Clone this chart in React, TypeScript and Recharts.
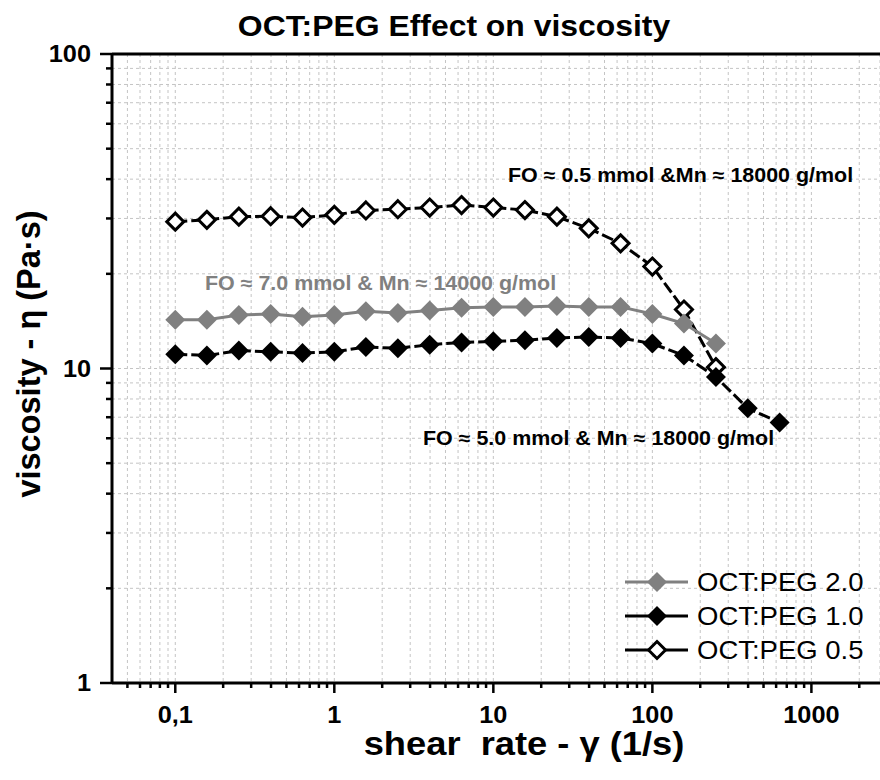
import React from "react";
import { LineChart, Line, XAxis, YAxis, CartesianGrid, ReferenceLine } from "recharts";

// ---------- data ----------
const shearRate = [0.1, 0.158, 0.251, 0.398, 0.631, 1, 1.58, 2.51, 3.98, 6.31, 10, 15.8, 25.1, 39.8, 63.1, 100, 158, 251, 398, 631];
const peg20 = [14.3, 14.3, 14.8, 14.9, 14.6, 14.8, 15.2, 15.0, 15.3, 15.6, 15.7, 15.7, 15.8, 15.7, 15.7, 14.9, 13.9, 12.0, null, null];
const peg10 = [11.1, 11.0, 11.4, 11.3, 11.2, 11.3, 11.7, 11.6, 11.9, 12.1, 12.2, 12.3, 12.5, 12.6, 12.5, 12.0, 11.0, 9.4, 7.47, 6.74];
const peg05 = [29.3, 29.7, 30.4, 30.5, 30.2, 30.8, 31.8, 32.1, 32.5, 33.1, 32.5, 31.9, 30.4, 27.9, 25.0, 21.1, 15.4, 10.1, null, null];

const seriesNames = ["OCT:PEG 2.0", "OCT:PEG 1.0", "OCT:PEG 0.5"];

const xMajorTicks = [0.1, 1, 10, 100, 1000];
const xMajorLabels = ["0,1", "1", "10", "100", "1000"];
const xMinorTicks = [
  0.05, 0.06, 0.07, 0.08, 0.09,
  0.2, 0.3, 0.4, 0.5, 0.6, 0.7, 0.8, 0.9,
  2, 3, 4, 5, 6, 7, 8, 9,
  20, 30, 40, 50, 60, 70, 80, 90,
  200, 300, 400, 500, 600, 700, 800, 900,
  2000,
];
const yMajorTicks = [1, 10, 100];
const yMajorLabels = ["1", "10", "100"];
const yMinorTicks = [2, 3, 4, 5, 6, 7, 8, 9, 20, 30, 40, 50, 60, 70, 80, 90];

const titleText = "OCT:PEG Effect on viscosity";
const xTitle = "shear  rate - \u03B3 (1/s)";
const yTitle = "viscosity - \u03B7 (Pa\u00B7s)";
const noteA = "FO \u2248 0.5 mmol &Mn \u2248 18000 g/mol";
const noteB = "FO \u2248 7.0 mmol & Mn \u2248 14000 g/mol";
const noteC = "FO \u2248 5.0 mmol & Mn \u2248 18000 g/mol";

const data = shearRate.map((x, i) => ({ x, a: peg20[i], b: peg10[i], c: peg05[i] }));

// ---------- style ----------
const FONT = '"Liberation Sans", Arial, Helvetica, sans-serif';
const SX = 1.1;
const GRAY = "#808080";

function Txt({ x, y, anchor = "start", size, weight = "bold", fill = "#000", rotate = 0, sx = SX, children }: any) {
  return (
    <text
      transform={`translate(${x},${y}) rotate(${rotate}) scale(${sx},1)`}
      textAnchor={anchor}
      fontFamily={FONT}
      fontSize={size}
      fontWeight={weight}
      fill={fill}
      style={{ whiteSpace: "pre" }}
    >
      {children}
    </text>
  );
}

const diamondPath = (cx: number, cy: number, r: number) =>
  `M${cx},${cy - r}L${cx + r},${cy}L${cx},${cy + r}L${cx - r},${cy}Z`;

const makeDot = (fill: string, stroke: string, r: number, sw: number) => (props: any) => {
  const { cx, cy, index, value } = props;
  if (cx == null || cy == null || value == null || isNaN(cx) || isNaN(cy)) return <g key={`d${index}`} />;
  return <path key={`d${index}`} d={diamondPath(cx, cy, r)} fill={fill} stroke={stroke} strokeWidth={sw} />;
};

const seriesStyles = [
  { key: "a", color: GRAY, fill: GRAY, r: 10, sw: 0, dash: undefined as string | undefined },
  { key: "b", color: "#000", fill: "#000", r: 10, sw: 0, dash: "12 4" },
  { key: "c", color: "#000", fill: "#fff", r: 8.5, sw: 3, dash: "12 4" },
];

const XTick = (props: any) => {
  const { x, y, payload } = props;
  const v = payload.value;
  const mi = xMajorTicks.indexOf(v);
  const major = mi >= 0;
  return (
    <g>
      <line x1={x} x2={x} y1={y} y2={y + (major ? 10 : 5)} stroke="#000" strokeWidth={2.5} />
      {major && (
        <Txt x={x} y={y + 40} anchor="middle" size={23}>
          {xMajorLabels[mi]}
        </Txt>
      )}
    </g>
  );
};

const YTick = (props: any) => {
  const { x, y, payload } = props;
  const v = payload.value;
  const mi = yMajorTicks.indexOf(v);
  const major = mi >= 0;
  return (
    <g>
      <line x1={x} x2={x - (major ? 12 : 6)} y1={y} y2={y} stroke="#000" strokeWidth={2.5} />
      {major && (
        <Txt x={x - 21} y={y + 8.2} anchor="end" size={23}>
          {yMajorLabels[mi]}
        </Txt>
      )}
    </g>
  );
};

const legendRows = [582, 616, 650];

export default function App() {
  const xTicks = [...xMajorTicks, ...xMinorTicks].sort((p, q) => p - q);
  const yTicks = [...yMajorTicks, ...yMinorTicks].sort((p, q) => p - q);
  const order = [2, 0, 1];
  return (
    <div style={{ position: "absolute", left: 0, top: 0, width: 880, height: 780, background: "#fff", overflow: "hidden" }}>
      <LineChart width={880} height={780} data={data} margin={{ top: 54, right: 0, bottom: 7, left: 12 }}>
        <CartesianGrid stroke="#c4c4c4" strokeDasharray="3 3" strokeWidth={1} />
        <XAxis
          dataKey="x"
          type="number"
          scale="log"
          domain={[0.04, 2700]}
          allowDataOverflow
          ticks={xTicks}
          interval={0}
          height={90}
          tickSize={0}
          tickMargin={0}
          tickLine={false}
          tick={<XTick />}
          axisLine={{ stroke: "#000", strokeWidth: 3 }}
        />
        <YAxis
          type="number"
          scale="log"
          domain={[1, 100]}
          allowDataOverflow
          ticks={yTicks}
          interval={0}
          width={100}
          tickSize={0}
          tickMargin={0}
          tickLine={false}
          tick={<YTick />}
          axisLine={{ stroke: "#000", strokeWidth: 3 }}
        />
        <ReferenceLine y={100} stroke="#000" strokeWidth={3} ifOverflow="visible" />
        {order.map((i) => {
          const s = seriesStyles[i];
          return (
            <Line
              key={s.key}
              dataKey={s.key}
              name={seriesNames[i]}
              stroke={s.color}
              strokeWidth={3}
              strokeDasharray={s.dash}
              dot={makeDot(s.fill, s.color, s.r, s.sw)}
              activeDot={false}
              isAnimationActive={false}
              connectNulls={false}
            />
          );
        })}
      </LineChart>
      <svg width={880} height={780} style={{ position: "absolute", left: 0, top: 0, pointerEvents: "none" }}>
        <Txt x={454} y={36} anchor="middle" size={29}>{titleText}</Txt>
        <Txt x={524} y={755} anchor="middle" size={33}>{xTitle}</Txt>
        <Txt x={40} y={354} anchor="middle" size={32.5} rotate={-90} sx={1}>{yTitle}</Txt>
        <Txt x={508} y={182} size={19.5}>{noteA}</Txt>
        <Txt x={205} y={290} size={19.5} fill={GRAY}>{noteB}</Txt>
        <Txt x={423} y={445} size={19.5}>{noteC}</Txt>
        {seriesNames.map((name, i) => {
          const s = seriesStyles[i];
          const y = legendRows[i];
          return (
            <g key={name}>
              <line x1={625} x2={688} y1={y} y2={y} stroke={s.color} strokeWidth={3} />
              <path d={diamondPath(657, y, s.r)} fill={s.fill} stroke={s.color} strokeWidth={s.sw} />
              <Txt x={697} y={y + 9} size={25} weight="normal">{name}</Txt>
            </g>
          );
        })}
      </svg>
    </div>
  );
}
